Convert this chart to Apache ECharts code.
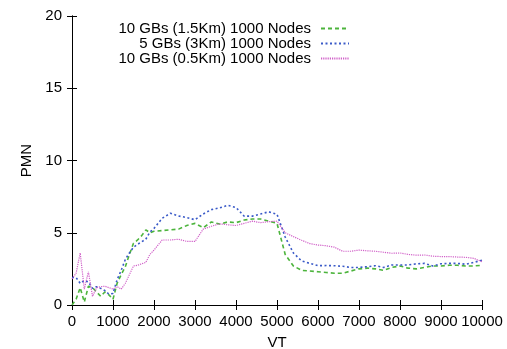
<!DOCTYPE html>
<html>
<head>
<meta charset="utf-8">
<script src="https://cdn.jsdelivr.net/npm/echarts@6/dist/echarts.min.js"></script>
<style>
  html, body { margin: 0; padding: 0; background: #fff; }
  #chart { width: 507px; height: 349px; }
</style>
</head>
<body>
<div id="chart"></div>
<script>
const seriesNames = [
  "10 GBs (1.5Km) 1000 Nodes",
  "5 GBs (3Km) 1000 Nodes",
  "10 GBs (0.5Km) 1000 Nodes",
];

const vt = [
  0, 100, 200, 300, 400, 500, 600, 700, 800, 900, 1000,
  1100, 1200, 1300, 1400, 1500, 1600, 1700, 1800, 1900, 2000,
  2200, 2400, 2600, 2800, 3000, 3200, 3400, 3600, 3800, 4000,
  4200, 4400, 4600, 4800, 5000, 5200, 5400, 5600, 5800, 6000,
  6200, 6400, 6600, 6800, 7000, 7200, 7400, 7600, 7800, 8000,
  8200, 8400, 8600, 8800, 9000, 9200, 9400, 9600, 9800, 10000,
];

const green15 = [
  0, 0.4, 1.2, 0.2, 1.3, 1.2, 0.9, 0.6, 0.9, 0.7, 0.4,
  1.5, 2.1, 2.65, 3.5, 4.27, 4.5, 4.8, 5.2, 5.0, 5.1,
  5.15, 5.2, 5.25, 5.5, 5.65, 5.35, 5.75, 5.6, 5.75, 5.7,
  5.88, 5.95, 5.95, 5.8, 5.65, 3.5, 2.7, 2.4, 2.35, 2.3,
  2.25, 2.2, 2.2, 2.35, 2.5, 2.55, 2.5, 2.4, 2.6, 2.7,
  2.55, 2.5, 2.6, 2.7, 2.7, 2.75, 2.75, 2.7, 2.7, 2.75,
];

const blue3 = [
  1.9, 1.9, 1.5, 1.7, 1.6, 1.15, 1.27, 1.15, 1.0, 0.75, 0.8,
  1.75, 2.4, 3.15, 3.6, 4.0, 4.2, 4.38, 4.55, 5.05, 5.3,
  6.0, 6.35, 6.16, 6.05, 5.9, 6.3, 6.6, 6.72, 6.9, 6.75,
  6.15, 6.15, 6.3, 6.45, 6.28, 4.7, 3.6, 3.05, 2.88, 2.72,
  2.73, 2.72, 2.68, 2.6, 2.6, 2.65, 2.72, 2.6, 2.77, 2.77,
  2.77, 2.85, 2.88, 2.7, 2.85, 2.88, 2.88, 2.82, 2.95, 3.1,
];

const magenta05 = [
  1.8, 2.2, 3.6, 1.1, 2.3, 0.6, 1.2, 1.27, 1.3, 1.2, 1.1,
  1.27, 1.1, 1.5, 2.1, 2.7, 2.75, 2.85, 2.95, 3.5, 3.8,
  4.5, 4.5, 4.55, 4.4, 4.4, 5.25, 5.45, 5.62, 5.55, 5.5,
  5.65, 5.8, 5.7, 5.77, 5.8, 5.0, 4.73, 4.48, 4.25, 4.15,
  4.1, 4.0, 3.72, 3.72, 3.8, 3.75, 3.72, 3.65, 3.58, 3.6,
  3.5, 3.45, 3.46, 3.38, 3.35, 3.35, 3.32, 3.3, 3.23, 3.0,
];

const colors = ["#4cb43c", "#3a5ac8", "#d060c8"];
const dashes = [[4, 3], [2, 2.5], [1.2, 1]];
const widths = [1.6, 1.6, 1.2];
const values = [green15, blue3, magenta05];

const myChart = echarts.init(document.getElementById("chart"));
const font = "Liberation Sans, Arial, sans-serif";

const axisBase = {
  axisLine: { show: true, lineStyle: { color: "#000", width: 1 } },
  axisTick: { show: true, inside: true, length: 5, lineStyle: { color: "#000" } },
  splitLine: { show: false },
};

const option = {
  animation: false,
  textStyle: { fontFamily: font },
  grid: { left: 72, right: 25, top: 16, bottom: 44, outerBoundsMode: "none", containLabel: false },
  legend: seriesNames.map((n, i) => ({
    data: [n],
    right: 157,
    top: 21 + 15 * i,
    align: "right",
    itemWidth: 28,
    itemHeight: 10,
    itemGap: 0,
    padding: 0,
    selectedMode: false,
    itemStyle: { opacity: 0 },
    textStyle: { fontSize: 15, color: "#000", fontFamily: font, padding: [0, 5, 0, 0] },
  })),
  xAxis: [
    {
      ...axisBase,
      type: "value",
      min: 0,
      max: 10000,
      interval: 1000,
      name: "VT",
      nameLocation: "middle",
      nameGap: 30,
      nameTextStyle: { fontSize: 15, color: "#000" },
      axisLabel: { fontSize: 15, color: "#000", margin: 9, formatter: (v) => String(v) },
    },
    {
      ...axisBase,
      type: "value",
      position: "top",
      min: 0,
      max: 10000,
      interval: 1000,
      axisLabel: { show: false },
    },
  ],
  yAxis: [
    {
      ...axisBase,
      type: "value",
      min: 0,
      max: 20,
      interval: 5,
      name: "PMN",
      nameLocation: "middle",
      nameGap: 36,
      nameTextStyle: { fontSize: 15, color: "#000" },
      axisLabel: { fontSize: 15, color: "#000", margin: 10 },
    },
    {
      ...axisBase,
      type: "value",
      position: "right",
      min: 0,
      max: 20,
      interval: 5,
      axisLabel: { show: false },
    },
  ],
  series: seriesNames.map((n, i) => ({
    name: n,
    type: "line",
    symbol: "none",
    clip: true,
    data: vt.map((x, k) => [x, values[i][k]]),
    itemStyle: { color: colors[i] },
    lineStyle: { color: colors[i], width: widths[i], type: dashes[i] },
  })),
};

myChart.setOption(option);
</script>
</body>
</html>
